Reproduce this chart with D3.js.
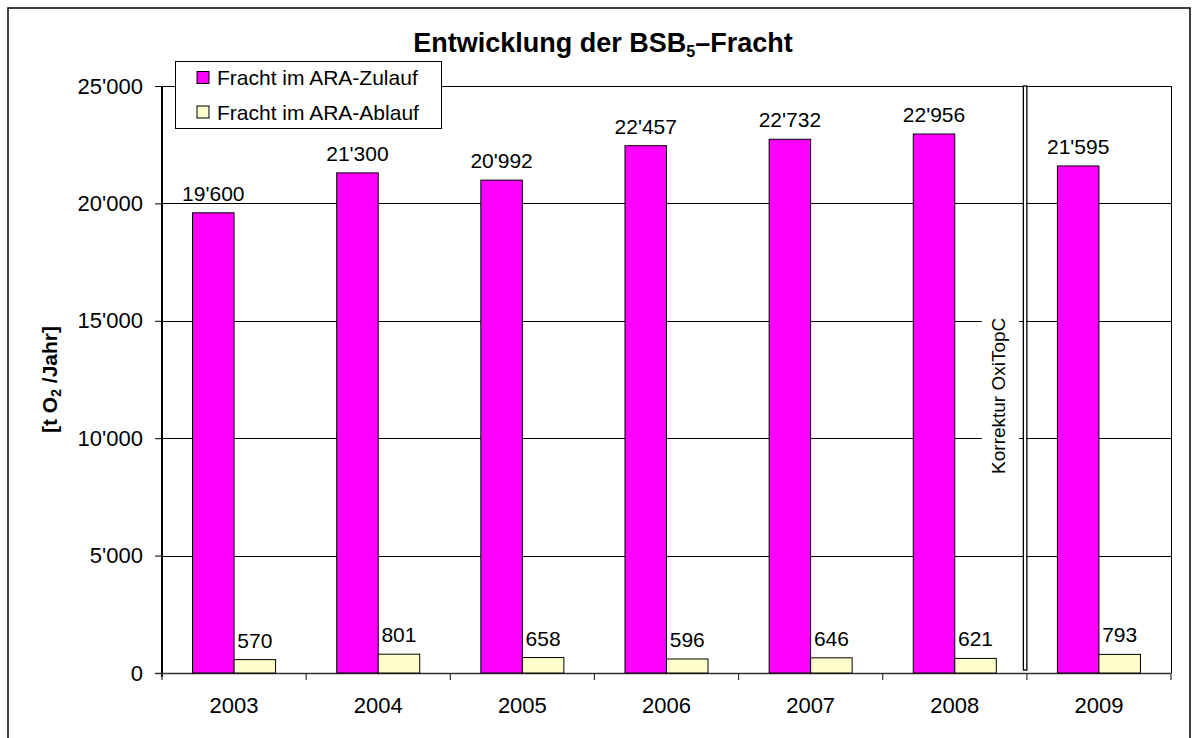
<!DOCTYPE html>
<html><head><meta charset="utf-8">
<script src="https://cdn.jsdelivr.net/npm/d3@7"></script>
<style>body{margin:0;background:#fff;} text{font-family:"Liberation Sans",Arial,sans-serif;}</style>
</head><body><svg id="c" width="1195" height="738"></svg>
<script>
const categories = ["2003","2004","2005","2006","2007","2008","2009"];
const seriesNames = ["Fracht im ARA-Zulauf","Fracht im ARA-Ablauf"];
const zulauf = [19600,21300,20992,22457,22732,22956,21595];
const ablauf = [570,801,658,596,646,621,793];
const yTicks = [0,5000,10000,15000,20000,25000];
const colors = ["#FF00FF","#FFFFCC"];
const titleParts = ["Entwicklung der BSB","5","–Fracht"];
const yLabelParts = ["[t O","2"," /Jahr]"];
const noteText = "Korrektur OxiTopC";
const noteBefore = "2009";

const svg = d3.select("#c");
const L=162, R=1171, T=86, B=673;
const fmt = d3.formatLocale({thousands:"'",grouping:[3],decimal:".",currency:["",""]}).format(",");
const x = d3.scaleBand().domain(categories).range([L,R]).padding(0);
const bw = x.bandwidth();
const barW = bw*0.288;
const x1 = d3.scaleBand().domain(seriesNames).range([(bw-2*barW)/2,(bw+2*barW)/2]);
const y = d3.scaleLinear().domain([0,25000]).range([B,T]);

// outer frame
svg.append("rect").attr("x",8).attr("y",8).attr("width",1182).attr("height",745)
  .attr("fill","#fff").attr("stroke","#000").attr("stroke-width",1.5);

// gridlines
svg.append("g").selectAll("line").data(yTicks.filter(d=>d>0)).join("line")
  .attr("x1",L).attr("x2",R).attr("y1",d=>Math.round(y(d))+0.5).attr("y2",d=>Math.round(y(d))+0.5)
  .attr("stroke","#000").attr("stroke-width",1);
// right border
svg.append("line").attr("x1",R+0.5).attr("x2",R+0.5).attr("y1",T).attr("y2",B).attr("stroke","#000");

// y axis
const yAxis = d3.axisLeft(y).tickValues(yTicks).tickFormat(fmt).tickSize(7).tickPadding(12);
const gy = svg.append("g").attr("transform",`translate(${L},0)`).call(yAxis);
gy.select(".domain").attr("stroke","#000").attr("stroke-width",2).attr("d",`M0,${T}V${B+4}`);
gy.selectAll(".tick text").attr("font-size",22).attr("fill","#000").style("font-family","Liberation Sans, Arial, sans-serif");
gy.selectAll(".tick line").attr("stroke","#000");

// x axis
svg.append("line").attr("x1",L-7).attr("x2",R).attr("y1",B+0.5).attr("y2",B+0.5).attr("stroke","#333").attr("stroke-width",1.5);
const bounds = categories.map(c=>x(c)).concat([R]);
svg.append("g").selectAll("line").data(bounds).join("line")
  .attr("x1",d=>d).attr("x2",d=>d).attr("y1",B).attr("y2",B+7).attr("stroke","#333").attr("stroke-width",1.2);
svg.append("g").selectAll("text").data(categories).join("text")
  .attr("x",d=>x(d)+bw/2).attr("y",713).attr("text-anchor","middle").attr("font-size",22).text(d=>d);

// note box + double line
const xb = x(noteBefore);
svg.append("rect").attr("x",xb-45).attr("y",y(15000)-6).attr("width",37).attr("height",160).attr("fill","#fff");
svg.append("text").attr("transform",`translate(${xb-22},${y(15000)+75}) rotate(-90)`)
  .attr("text-anchor","middle").attr("font-size",19).text(noteText);
svg.append("rect").attr("x",xb-3.5).attr("y",T).attr("width",3.5).attr("height",B-T-3)
  .attr("fill","#fff").attr("stroke","#000").attr("stroke-width",1.3);

// bars
const data = categories.map((c,i)=>({c, vals:[zulauf[i],ablauf[i]]}));
const g = svg.append("g");
data.forEach(d=>{
  d.vals.forEach((v,j)=>{
    const bx = x(d.c)+x1(seriesNames[j]);
    g.append("rect").attr("x",bx).attr("y",y(v)).attr("width",x1.bandwidth()).attr("height",B-y(v))
      .attr("fill",colors[j]).attr("stroke","#000").attr("stroke-width",1);
    g.append("text").attr("x",bx+x1.bandwidth()/2).attr("y",y(v)-12).attr("text-anchor","middle")
      .attr("font-size",21).text(fmt(v));
  });
});

// title
const tt = svg.append("text").attr("x",603).attr("y",52).attr("text-anchor","middle")
  .attr("font-size",27).attr("font-weight","bold");
tt.append("tspan").text(titleParts[0]);
tt.append("tspan").attr("font-size",16).attr("dy",5).text(titleParts[1]);
tt.append("tspan").attr("dy",-5).text(titleParts[2]);

// y label
const yl = svg.append("text").attr("transform",`translate(57,${(T+B)/2}) rotate(-90)`)
  .attr("text-anchor","middle").attr("font-size",21).attr("font-weight","bold");
yl.append("tspan").text(yLabelParts[0]);
yl.append("tspan").attr("font-size",14).attr("dy",4).text(yLabelParts[1]);
yl.append("tspan").attr("dy",-4).text(yLabelParts[2]);

// legend
const lg = svg.append("g");
lg.append("rect").attr("x",175.5).attr("y",61.5).attr("width",266).attr("height",67)
  .attr("fill","#fff").attr("stroke","#000").attr("stroke-width",1);
seriesNames.forEach((s,j)=>{
  const cy = 77.5 + j*34.5;
  lg.append("rect").attr("x",197).attr("y",cy-6).attr("width",12).attr("height",12)
    .attr("fill",colors[j]).attr("stroke","#000").attr("stroke-width",1);
  lg.append("text").attr("x",217).attr("y",cy+7.5).attr("font-size",21).text(s);
});
</script></body></html>
